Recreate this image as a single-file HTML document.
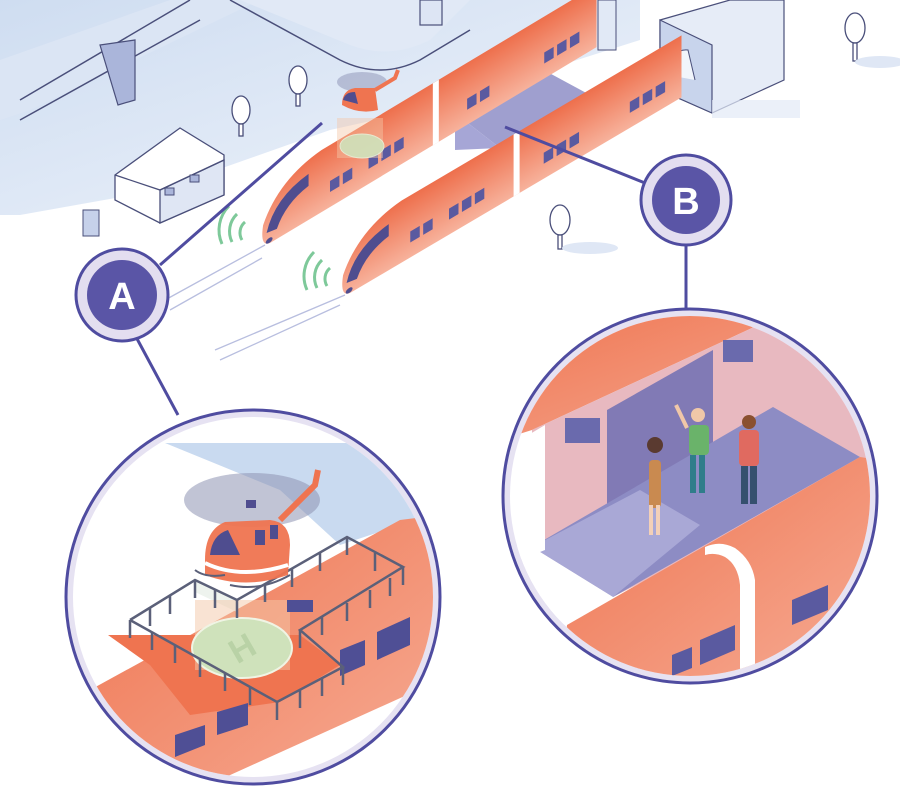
<!DOCTYPE html>
<html><head><meta charset="utf-8"><style>
html,body{margin:0;padding:0;background:#fff;}
svg{display:block}
text{font-family:"Liberation Sans",sans-serif;font-weight:bold}
</style></head><body>
<svg width="900" height="803" viewBox="0 0 900 803" xmlns="http://www.w3.org/2000/svg">
<defs>
<linearGradient id="org" x1="0" y1="0" x2="0" y2="1">
<stop offset="0" stop-color="#ee6f4c"/><stop offset="1" stop-color="#f7b29c"/></linearGradient>
<linearGradient id="org2" x1="0" y1="0" x2="1" y2="1">
<stop offset="0" stop-color="#ef7450"/><stop offset="1" stop-color="#f6ad96"/></linearGradient>
<linearGradient id="sky" x1="0" y1="0" x2="1" y2="1">
<stop offset="0" stop-color="#c9d9ef"/><stop offset="1" stop-color="#eef3fb"/></linearGradient>
<clipPath id="ca"><circle cx="253" cy="597" r="180"/></clipPath>
<clipPath id="cb"><circle cx="690" cy="496" r="180"/></clipPath>
</defs>

<polygon points="0,0 640,0 640,40 420,110 330,130 160,190 20,215 0,215" fill="url(#sky)" opacity="0.9"/>
<polygon points="0,60 170,0 260,0 30,110 0,120" fill="#dbe5f4"/>
<polyline points="20,100 190,0" stroke="#4a4f7a" stroke-width="1.5" fill="none"/>
<polyline points="20,120 200,20" stroke="#4a4f7a" stroke-width="1.5" fill="none"/>
<polygon points="100,45 135,40 135,100 118,105" fill="#aab5da" stroke="#4a4f7a" stroke-width="1.2"/>
<path d="M230,0 L340,60 Q380,80 420,60 L470,30" stroke="#4a4f7a" stroke-width="1.5" fill="none"/>
<path d="M240,0 L350,45 Q390,60 430,40 L470,0" fill="#e1e9f6"/>
<rect x="420" y="0" width="22" height="25" fill="#dde5f4" stroke="#4a4f7a" stroke-width="1.2"/>
<polygon points="660,20 730,0 784,0 784,80 712,113 660,90" fill="#e6ecf7" stroke="#4a4f7a" stroke-width="1.2"/>
<polygon points="660,20 712,45 712,113 660,90" fill="#c8d4ec" stroke="#4a4f7a" stroke-width="1.2"/>
<path d="M668,75 Q672,48 688,50 L695,80" fill="#f1f5fb" stroke="#4a4f7a" stroke-width="1"/>
<polygon points="712,100 800,100 800,118 712,118" fill="#e2eaf7" opacity="0.7"/>
<rect x="598" y="0" width="18" height="50" fill="#e1e9f6" stroke="#4a4f7a" stroke-width="1"/>

<polygon points="115,175 180,128 224,155 224,195 160,223 115,200" fill="#fff" stroke="#4a4f7a" stroke-width="1.3"/>
<polygon points="160,190 224,160 224,195 160,223" fill="#dfe6f4" stroke="#4a4f7a" stroke-width="1.3"/>
<polyline points="115,175 160,190 224,160" fill="none" stroke="#4a4f7a" stroke-width="1.3"/>
<rect x="165" y="188" width="9" height="7" fill="#aab5da" stroke="#4a4f7a"/>
<rect x="190" y="175" width="9" height="7" fill="#aab5da" stroke="#4a4f7a"/>
<rect x="83" y="210" width="16" height="26" fill="#c6d1ea" stroke="#4a4f7a"/>

<g fill="#fff" stroke="#4a4f7a" stroke-width="1.3">
<ellipse cx="298" cy="80" rx="9" ry="14"/><rect x="296" y="94" width="4" height="12"/>
<ellipse cx="241" cy="110" rx="9" ry="14"/><rect x="239" y="124" width="4" height="12"/>
<ellipse cx="560" cy="220" rx="10" ry="15"/><rect x="558" y="235" width="4" height="14"/>
<ellipse cx="855" cy="28" rx="10" ry="15"/><rect x="853" y="43" width="4" height="18"/>
</g>
<ellipse cx="590" cy="248" rx="28" ry="6" fill="#dfe7f5"/>
<ellipse cx="880" cy="62" rx="25" ry="6" fill="#dfe7f5"/>

<g stroke="#b8bedf" stroke-width="1.3">
<line x1="165" y1="300" x2="265" y2="245"/><line x1="170" y1="310" x2="262" y2="258"/>
<line x1="215" y1="350" x2="345" y2="295"/><line x1="220" y1="360" x2="340" y2="305"/>
</g>
<g fill="none" stroke="#7ec99a" stroke-width="3">
<path d="M245,222 A14,14 0 0 0 242,240"/><path d="M237,214 A24,24 0 0 0 232,242"/><path d="M229,206 A34,34 0 0 0 222,244"/>
<path d="M330,268 A14,14 0 0 0 327,286"/><path d="M322,260 A24,24 0 0 0 317,288"/><path d="M314,252 A34,34 0 0 0 307,290"/>
</g>

<polygon points="455,113 540,68 590,95 500,148" fill="#7f7fbf" opacity="0.75"/>
<polygon points="455,113 455,150 500,148" fill="#a6a6d6"/>

<g transform="matrix(0.857,-0.514,0,1,270,243)">
<path d="M0,0 L381,0 L381,-62 L60,-62 Q10,-58 -8,-22 Q-12,-2 0,0 Z" fill="url(#org)"/>
<path d="M-4,-12 Q5,-42 45,-46 L45,-34 Q18,-30 8,-10 Z" fill="#4f4d8f"/>
<rect x="190" y="-62" width="7" height="62" fill="#fff"/>
<g fill="#5a5aa0">
<rect x="70" y="-26" width="11" height="11"/><rect x="85" y="-26" width="11" height="11"/>
<rect x="115" y="-26" width="11" height="11"/><rect x="130" y="-26" width="11" height="11"/><rect x="145" y="-26" width="11" height="11"/>
<rect x="230" y="-26" width="11" height="11"/><rect x="245" y="-26" width="11" height="11"/>
<rect x="320" y="-26" width="11" height="11"/><rect x="335" y="-26" width="11" height="11"/><rect x="350" y="-26" width="11" height="11"/>
</g>
<ellipse cx="-1" cy="-3" rx="4" ry="2.5" fill="#4f4d8f"/>
</g>
<g transform="matrix(0.861,-0.508,0,1,350,293)">
<path d="M0,0 L385,0 L385,-62 L60,-62 Q10,-58 -8,-22 Q-12,-2 0,0 Z" fill="url(#org)"/>
<path d="M-4,-12 Q5,-42 45,-46 L45,-34 Q18,-30 8,-10 Z" fill="#4f4d8f"/>
<rect x="190" y="-62" width="7" height="62" fill="#fff"/>
<g fill="#5a5aa0">
<rect x="70" y="-26" width="11" height="11"/><rect x="85" y="-26" width="11" height="11"/>
<rect x="115" y="-26" width="11" height="11"/><rect x="130" y="-26" width="11" height="11"/><rect x="145" y="-26" width="11" height="11"/>
<rect x="225" y="-26" width="11" height="11"/><rect x="240" y="-26" width="11" height="11"/><rect x="255" y="-26" width="11" height="11"/>
<rect x="325" y="-26" width="11" height="11"/><rect x="340" y="-26" width="11" height="11"/><rect x="355" y="-26" width="11" height="11"/>
</g>
<ellipse cx="-1" cy="-3" rx="4" ry="2.5" fill="#4f4d8f"/>
</g>
<rect x="337" y="118" width="46" height="40" fill="#f4c7a8" opacity="0.45"/>
<ellipse cx="362" cy="146" rx="22" ry="12" fill="#cfe2bb" stroke="#e8f0d8" opacity="0.9"/>
<ellipse cx="362" cy="82" rx="25" ry="10" fill="#9aa0bf" opacity="0.6"/>
<path d="M342,105 Q342,90 355,88 L375,88 L378,110 Q360,115 342,105Z" fill="#ef7450"/>
<path d="M343,100 Q345,92 355,92 L358,104Z" fill="#4f4d8f"/>
<path d="M375,90 L395,78 L398,70" stroke="#ef7450" stroke-width="4" fill="none"/>

<g stroke="#4f4ca0" stroke-width="3">
<line x1="160" y1="265" x2="322" y2="123"/>
<line x1="135" y1="335" x2="178" y2="415"/>
<line x1="645" y1="183" x2="505" y2="127"/>
<line x1="686" y1="245" x2="686" y2="310"/>
</g>

<circle cx="122" cy="295" r="46" fill="#e3def0" stroke="#4f4ca0" stroke-width="3"/>
<circle cx="122" cy="295" r="35" fill="#5a55a6"/>
<text x="122" y="309" font-size="38" fill="#fff" text-anchor="middle">A</text>
<circle cx="686" cy="200" r="45" fill="#e3def0" stroke="#4f4ca0" stroke-width="3"/>
<circle cx="686" cy="200" r="34" fill="#5a55a6"/>
<text x="686" y="214" font-size="38" fill="#fff" text-anchor="middle">B</text>

<circle cx="253" cy="597" r="187" fill="#e6e2f2" stroke="#4f4ca0" stroke-width="3"/>
<g clip-path="url(#ca)">
<rect x="60" y="400" width="400" height="400" fill="#fff"/>
<polygon points="165,443 440,443 440,512 340,545 280,490" fill="#c9daf0"/>
<polygon points="90,690 400,520 440,515 440,680 175,800 90,800" fill="url(#org2)"/>
<polygon points="108,635 300,635 340,665 280,702 190,715 150,665" fill="#ef7450"/>
<polygon points="195,580 237,600 237,612 195,592" fill="#eef3ee"/>
<rect x="195" y="600" width="95" height="70" fill="#f4c7a8" opacity="0.5"/>
<ellipse cx="242" cy="648" rx="50" ry="30" fill="#cfe2bb" stroke="#f0f4e4" stroke-width="2"/>
<text x="242" y="660" font-size="34" fill="#b9d2a6" text-anchor="middle" transform="rotate(-30 242 648)">H</text>
<g fill="#4f4f95">
<polygon points="377,632 410,617 410,645 377,660"/><polygon points="340,650 365,640 365,665 340,676"/>
<polygon points="217,712 248,703 248,725 217,735"/><polygon points="175,735 205,725 205,745 175,757"/>
<polygon points="287,600 313,600 313,612 287,612"/>
</g>
<g fill="none" stroke="#5b6079" stroke-width="2.5">
<polyline points="130,620 195,580 237,600 347,537 403,567 300,630 343,667 277,702 130,620"/>
<path d="M130,620v18M152,632v18M175,645v18M200,659v18M225,673v18M250,687v18M277,702v18M300,690v18M322,678v18M343,667v18M300,630v18M322,617v18M347,603v18M370,590v18M390,578v18M403,567v18M375,553v18M347,537v18M320,553v18M292,569v18M265,584v18M237,600v18M215,590v18M195,580v18M170,596v18M150,608v18"/>
</g>
<ellipse cx="252" cy="500" rx="68" ry="27" fill="#8e93b3" opacity="0.55"/>
<path d="M205,560 Q205,530 225,522 L270,520 Q290,522 290,545 L288,575 Q245,590 205,575Z" fill="#ef7450" opacity="0.95"/>
<path d="M210,555 Q212,535 228,530 L240,555Z" fill="#4f4d8f"/>
<rect x="255" y="530" width="10" height="15" fill="#4f4d8f"/><rect x="270" y="525" width="8" height="14" fill="#4f4d8f"/>
<path d="M205,563 Q240,580 288,565" stroke="#fff" stroke-width="4" fill="none"/>
<path d="M280,520 L315,485 L318,470" stroke="#ef7450" stroke-width="6" fill="none"/>
<rect x="246" y="500" width="10" height="8" fill="#4f4d8f"/>
<path d="M195,570 Q205,578 225,575 M230,585 Q260,592 290,575" stroke="#5b6079" stroke-width="2" fill="none"/>
</g>

<circle cx="690" cy="496" r="187" fill="#e6e2f2" stroke="#4f4ca0" stroke-width="3"/>
<g clip-path="url(#cb)">
<rect x="500" y="300" width="380" height="400" fill="#fff"/>
<polygon points="500,300 880,300 880,330 780,315 532,430 500,440" fill="url(#org2)"/>
<polygon points="532,430 780,315 880,380 880,460 613,597 532,547" fill="#e8b9c0"/>
<polygon points="607,410 713,350 713,490 607,545" fill="#6f6fb3" opacity="0.85"/>
<rect x="723" y="340" width="30" height="22" fill="#6a6aad"/>
<rect x="565" y="418" width="35" height="25" fill="#6a6aad"/>
<polygon points="532,547 773,407 860,457 613,597" fill="#8d8cc4"/>
<polygon points="532,547 640,490 700,525 613,597" fill="#a9a8d6"/>
<polygon points="520,440 545,425 545,550 520,560" fill="#fff"/>
<polygon points="500,545 532,547 613,597 567,625 500,620" fill="#fff"/>
<polygon points="567,625 860,457 880,460 880,700 560,700" fill="url(#org2)"/>
<path d="M705,547 Q720,540 735,548 Q752,560 755,580 L755,700 L740,700 L740,585 Q738,565 725,557 Q715,552 705,555Z" fill="#fff"/>
<g fill="#5a5aa0">
<polygon points="792,600 828,585 828,610 792,625"/><polygon points="700,640 735,625 735,650 700,665"/>
<polygon points="672,655 692,647 692,668 672,676"/>
</g>
<rect x="649" y="460" width="12" height="48" rx="4" fill="#c98a50"/>
<circle cx="655" cy="445" r="8" fill="#5a3a30"/>
<rect x="649" y="505" width="4" height="30" fill="#f3d0b8"/><rect x="656" y="505" width="4" height="30" fill="#f3d0b8"/>
<rect x="689" y="425" width="20" height="30" rx="4" fill="#6ab36a"/>
<circle cx="698" cy="415" r="7" fill="#f0c7a8"/>
<line x1="687" y1="428" x2="676" y2="405" stroke="#f0c7a8" stroke-width="4"/>
<rect x="690" y="455" width="6" height="38" fill="#2f7d8a"/><rect x="699" y="455" width="6" height="38" fill="#2f7d8a"/>
<rect x="739" y="430" width="20" height="36" rx="4" fill="#e06a60"/>
<circle cx="749" cy="422" r="7" fill="#8a5030"/>
<rect x="741" y="466" width="7" height="38" fill="#35506e"/><rect x="750" y="466" width="7" height="38" fill="#35506e"/>
</g>
</svg>
</body></html>
